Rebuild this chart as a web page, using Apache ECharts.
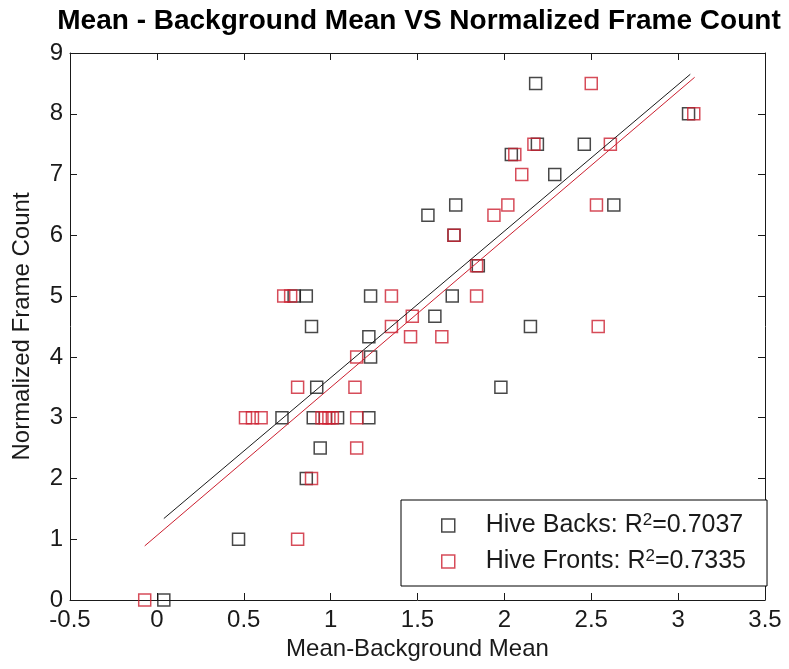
<!DOCTYPE html>
<html>
<head>
<meta charset="utf-8">
<script src="https://cdn.jsdelivr.net/npm/echarts@6/dist/echarts.min.js"></script>
<style>
html,body{margin:0;padding:0;background:#fff;}
#chart{width:789px;height:669px;}
</style>
</head>
<body>
<div id="chart"></div>
<script>
// Data
const titleText = 'Mean - Background Mean VS Normalized Frame Count';
const xAxisName = 'Mean-Background Mean';
const yAxisName = 'Normalized Frame Count';

const backsX = [0.04, 0.47, 0.86, 0.94, 0.72, 0.90, 1.04, 1.22, 0.92, 1.23, 1.22, 0.89, 0.79, 0.86, 1.23, 1.60, 2.15, 1.98, 1.70, 1.85, 1.71, 1.56, 1.72, 2.63, 2.29, 2.04, 2.19, 2.46, 2.18, 3.06];
const backsY = [0, 1, 2, 2.5, 3, 3, 3, 3, 3.5, 4, 4.33, 4.5, 5, 5, 5, 4.67, 4.5, 3.5, 5, 5.5, 6, 6.33, 6.5, 6.5, 7, 7.33, 7.5, 7.5, 8.5, 8];

const frontsX = [-0.07, 0.81, 0.89, 1.15, 0.51, 0.55, 0.60, 0.95, 0.97, 0.99, 1.01, 1.15, 0.81, 1.14, 1.15, 1.46, 1.64, 1.35, 2.54, 1.47, 0.73, 0.77, 1.35, 1.84, 1.84, 1.71, 1.94, 2.02, 2.53, 2.10, 2.06, 2.17, 2.61, 2.50, 3.09];
const frontsY = [0, 1, 2, 2.5, 3, 3, 3, 3, 3, 3, 3, 3, 3.5, 3.5, 4, 4.33, 4.33, 4.5, 4.5, 4.67, 5, 5, 5, 5, 5.5, 6, 6.33, 6.5, 6.5, 7, 7.33, 7.5, 7.5, 8.5, 8];

// fit line end points
const backsFitX = [0.04, 3.07];
const backsFitY = [1.34, 8.65];
const frontsFitX = [-0.07, 3.095];
const frontsFitY = [0.89, 8.60];

const backsLabel = 'Hive Backs';
const frontsLabel = 'Hive Fronts';
const backsR2 = '0.7037';
const frontsR2 = '0.7335';

const BLACK = '#1a1a1a';
const RED = '#cc1f2f';
const FONT = 'Liberation Sans, Arial, sans-serif';

const zip = (xs, ys) => xs.map((x, i) => [x, ys[i]]);

const chart = echarts.init(document.getElementById('chart'), null, {renderer: 'canvas'});

const axisCommon = {
  axisLine: {show: true, onZero: false, lineStyle: {color: BLACK, width: 1}},
  axisTick: {show: true, inside: true, length: 7, lineStyle: {color: BLACK, width: 1}},
  splitLine: {show: false}
};

const option = {
  backgroundColor: '#fff',
  animation: false,
  title: {
    text: titleText,
    left: 414, top: 2,
    textAlign: 'center',
    textStyle: {fontFamily: FONT, fontSize: 28, fontWeight: 'bold', color: '#000'}
  },
  grid: {left: 70, right: 24, top: 53, bottom: 69, containLabel: false},
  legend: {
    orient: 'vertical',
    left: 401, top: 500,
    backgroundColor: '#fff',
    borderColor: '#000', borderWidth: 1,
    padding: [12, 21, 12, 40],
    itemGap: 10,
    itemWidth: 13, itemHeight: 13,
    data: [
      {name: backsLabel, icon: 'rect', itemStyle: {color: 'transparent', borderColor: BLACK, borderWidth: 1.5}},
      {name: frontsLabel, icon: 'rect', itemStyle: {color: 'transparent', borderColor: RED, borderWidth: 1.5}}
    ],
    formatter: function (name) {
      const r = name === backsLabel ? backsR2 : frontsR2;
      return '{t|' + name + ': R}{s|2}{t|=' + r + '}';
    },
    textStyle: {
      fontFamily: FONT, fontSize: 25, color: '#1a1a1a',
      padding: [0, 0, 0, 26],
      rich: {
        t: {fontFamily: FONT, fontSize: 25, color: '#1a1a1a'},
        s: {fontFamily: FONT, fontSize: 17, color: '#1a1a1a', verticalAlign: 'top', padding: [0, 0, 10, 0]}
      }
    }
  },
  xAxis: [
    Object.assign({
      type: 'value', min: -0.5, max: 3.5, interval: 0.5, position: 'bottom',
      name: xAxisName, nameLocation: 'middle', nameGap: 34,
      nameTextStyle: {fontFamily: FONT, fontSize: 24, color: '#1a1a1a'},
      axisLabel: {fontFamily: FONT, fontSize: 24, color: '#1a1a1a', margin: 8}
    }, axisCommon),
    Object.assign({
      type: 'value', min: -0.5, max: 3.5, interval: 0.5, position: 'top',
      axisLabel: {show: false}
    }, axisCommon)
  ],
  yAxis: [
    Object.assign({
      type: 'value', min: 0, max: 9, interval: 1, position: 'left',
      name: yAxisName, nameLocation: 'middle', nameGap: 36,
      nameTextStyle: {fontFamily: FONT, fontSize: 24, color: '#1a1a1a'},
      axisLabel: {fontFamily: FONT, fontSize: 24, color: '#1a1a1a', margin: 7}
    }, axisCommon),
    Object.assign({
      type: 'value', min: 0, max: 9, interval: 1, position: 'right',
      axisLabel: {show: false}
    }, axisCommon)
  ],
  series: [
    {
      name: backsLabel, type: 'scatter', symbol: 'rect', symbolSize: 12,
      data: zip(backsX, backsY),
      itemStyle: {color: 'transparent', borderColor: BLACK, borderWidth: 1.5}
    },
    {
      name: frontsLabel, type: 'scatter', symbol: 'rect', symbolSize: 12,
      data: zip(frontsX, frontsY),
      itemStyle: {color: 'transparent', borderColor: RED, borderWidth: 1.5}
    },
    {
      name: 'backsFit', type: 'line', showSymbol: false, symbol: 'none',
      data: zip(backsFitX, backsFitY),
      lineStyle: {color: BLACK, width: 1}, z: 3
    },
    {
      name: 'frontsFit', type: 'line', showSymbol: false, symbol: 'none',
      data: zip(frontsFitX, frontsFitY),
      lineStyle: {color: RED, width: 1}, z: 3
    }
  ]
};

chart.setOption(option);
</script>
</body>
</html>
